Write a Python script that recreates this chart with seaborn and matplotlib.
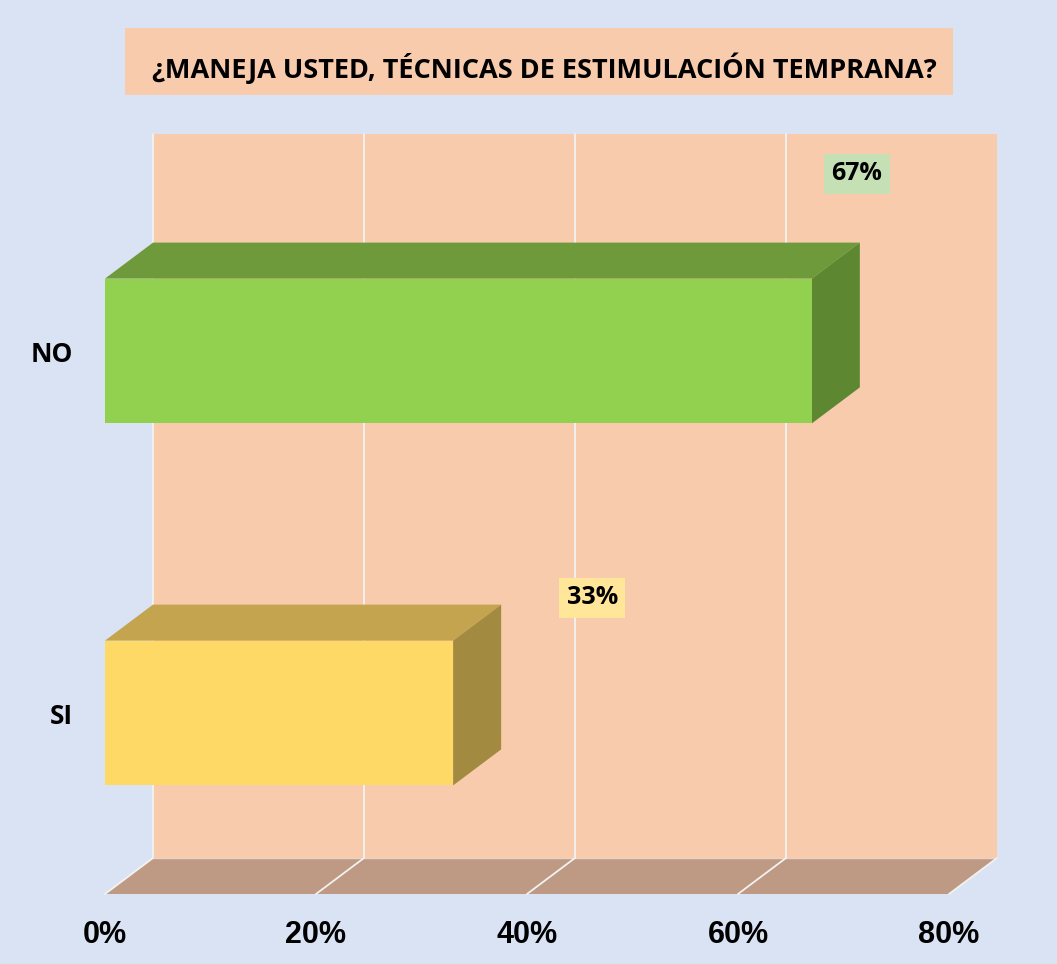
import numpy as np
import pandas as pd
import seaborn as sns
import matplotlib
matplotlib.use("Agg")
import matplotlib.pyplot as plt
from matplotlib.patches import Polygon, Rectangle
from matplotlib.lines import Line2D

# ---------------- data ----------------
categories = ["NO", "SI"]
values = [0.67, 0.33]
value_labels = ["67%", "33%"]
tick_values = [0.0, 0.2, 0.4, 0.6, 0.8]
tick_labels = ["0%", "20%", "40%", "60%", "80%"]
title = "¿MANEJA USTED, TÉCNICAS DE ESTIMULACIÓN TEMPRANA?"

# ---------------- styles ----------------
front_colors = {"NO": "#92D050", "SI": "#FFD966"}
top_colors = {"NO": "#6F9A3C", "SI": "#C4A44E"}
side_colors = {"NO": "#5E8732", "SI": "#A38A41"}
label_box_colors = {"NO": "#C5E0B4", "SI": "#FFE699"}
label_offsets = {"NO": (45, 177), "SI": (139, 115)}  # pixels from bar end
BG = "#DAE3F3"
WALL = "#F8CBAD"
FLOOR = "#BE9983"
DX, DY = 48, 36  # 3-D depth in pixels

W, H = 1057, 964
sns.set_theme(style="white")
plt.rcParams["font.family"] = ["Open Sans", "DejaVu Sans"]

fig = plt.figure(figsize=(W / 100, H / 100), dpi=100)
fig.patch.set_facecolor(BG)
ax = fig.add_axes([105 / W, (H - 894) / H, (949 - 105) / W, (894 - 170) / H])
ax.set_facecolor("none")

df = pd.DataFrame({"cat": categories, "val": values})
sns.barplot(data=df, x="val", y="cat", hue="cat", order=categories,
            hue_order=categories, palette=front_colors, width=0.4,
            saturation=1, legend=False, ax=ax, zorder=5)
bars = list(ax.patches)

ax.set_xlim(0, 0.8)
ax.set_ylim(1.5, -0.5)


def back(x, y):
    disp = ax.transData.transform((x, y)) + np.array([DX, DY])
    return ax.transData.inverted().transform(disp)


y_lo, y_hi = ax.get_ylim()[1], ax.get_ylim()[0]  # -0.5, 1.5
x_lo, x_hi = ax.get_xlim()

# back wall
wall = Polygon([back(x_lo, y_hi), back(x_hi, y_hi), back(x_hi, y_lo), back(x_lo, y_lo)],
               closed=True, fc=WALL, ec="none", zorder=0, clip_on=False)
ax.add_patch(wall)
# floor
floor = Polygon([(x_lo, y_hi), (x_hi, y_hi), back(x_hi, y_hi), back(x_lo, y_hi)],
                closed=True, fc=FLOOR, ec="none", zorder=1, clip_on=False)
ax.add_patch(floor)
# back edge of floor
p0, p1 = back(x_lo, y_hi), back(x_hi, y_hi)
ax.add_line(Line2D([p0[0], p1[0]], [p0[1], p1[1]], color="#EBD3C4", lw=1.0,
                   zorder=2, clip_on=False))
# grid lines
for t in tick_values:
    b = back(t, y_hi)
    ax.add_line(Line2D([t, b[0]], [y_hi, b[1]], color="#F2F2F2", lw=1.3,
                       zorder=2, clip_on=False))
    if t < x_hi:
        bt = back(t, y_lo)
        ax.add_line(Line2D([b[0], bt[0]], [b[1], bt[1]], color="#F2F2F2", lw=1.3,
                           zorder=2, clip_on=False))

# 3-D faces of the bars
for patch in bars:
    x0 = patch.get_x()
    w = patch.get_width()
    ya, yb = patch.get_y(), patch.get_y() + patch.get_height()
    y_top, y_bot = min(ya, yb), max(ya, yb)
    idx = int(round((y_top + y_bot) / 2))
    cat = categories[idx]
    patch.set_edgecolor("none")
    x1 = x0 + w
    top = Polygon([(x0, y_top), (x1, y_top), back(x1, y_top), back(x0, y_top)],
                  closed=True, fc=top_colors[cat], ec="none", zorder=4, clip_on=False)
    side = Polygon([(x1, y_top), (x1, y_bot), back(x1, y_bot), back(x1, y_top)],
                   closed=True, fc=side_colors[cat], ec="none", zorder=4, clip_on=False)
    ax.add_patch(top)
    ax.add_patch(side)

# data labels
for i, (cat, v, lab) in enumerate(zip(categories, values, value_labels)):
    ax.annotate(lab, xy=(v, i), xytext=label_offsets[cat], textcoords="offset pixels",
                ha="center", va="center", fontsize=18, fontweight="bold",
                color="black", zorder=10,
                bbox=dict(boxstyle="square,pad=0.3", fc=label_box_colors[cat], ec="none"))

# axes / ticks
ax.set_xticks(tick_values)
ax.set_xticklabels(tick_labels, fontsize=22, fontweight="bold",
                   family=["Liberation Sans", "DejaVu Sans"])
ax.set_yticks(range(len(categories)))
ax.set_yticklabels(categories, fontsize=19, fontweight="bold")
ax.tick_params(axis="x", length=0, pad=19, colors="black")
ax.tick_params(axis="y", length=0, pad=23, colors="black")
ax.set_xlabel("")
ax.set_ylabel("")
for s in ax.spines.values():
    s.set_visible(False)
ax.grid(False)

# title box
fig.add_artist(Rectangle((125 / W, (H - 95) / H), (953 - 125) / W, 67 / H,
                         transform=fig.transFigure, fc=WALL, ec="none", zorder=0))
fig.text(544 / W, (H - 68) / H, title, ha="center", va="center", fontsize=19.5,
         fontweight="bold", color="black")

fig.savefig("out.png", dpi=100, facecolor=BG)
